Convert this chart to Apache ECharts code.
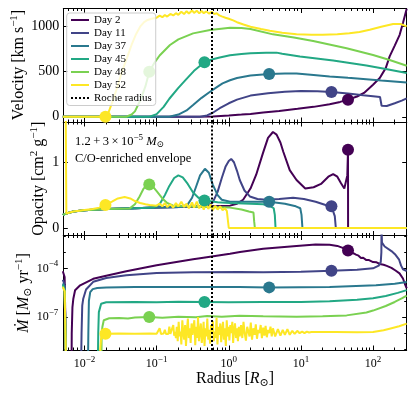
<!DOCTYPE html>
<html>
<head>
<meta charset="utf-8">
<script src="https://cdn.jsdelivr.net/npm/echarts@6/dist/echarts.min.js"></script>
<style>
html, body { margin: 0; padding: 0; background: #fff; }
#chart { width: 416px; height: 399px; }
</style>
</head>
<body>
<div id="chart"></div>
<script>
// ---- data ----
const dayNames = ['Day 2', 'Day 11', 'Day 37', 'Day 45', 'Day 48', 'Day 52'];
const dayColors = ['#440154', '#414487', '#2a788e', '#22a884', '#7ad151', '#fde725'];

const radiusRange = [5.08e-3, 293];
const velocityRange = [-58, 1202];
const opacityRange = [-0.114, 1.612];
const mdotRange = [9.1e-10, 1.1e-2];

const radiusTicks = [1e-2, 1e-1, 1, 10, 100];
const radiusMinorTicks = [6e-3, 7e-3, 8e-3, 9e-3,
  2e-2, 3e-2, 4e-2, 5e-2, 6e-2, 7e-2, 8e-2, 9e-2,
  0.2, 0.3, 0.4, 0.5, 0.6, 0.7, 0.8, 0.9,
  2, 3, 4, 5, 6, 7, 8, 9,
  20, 30, 40, 50, 60, 70, 80, 90, 200];
const velocityTicks = [0, 500, 1000];
const opacityTicks = [0, 1];
const mdotTicks = [1e-7, 1e-4];
const mdotMinorTicks = [1e-9, 1e-8, 1e-6, 1e-5, 1e-3, 1e-2];

const rocheRadius = 0.58;

// photosphere markers (same radius in every panel)
const photoRadius = [45, 26.5, 3.63, 0.46, 0.079, 0.0195];
const photoVelocity = [190, 274, 474, 605, 500, 0];
const photoOpacity = [1.19, 0.33, 0.40, 0.42, 0.66, 0.35];
const photoMdot = [1.3e-3, 7.3e-5, 6.8e-6, 8.5e-7, 1.0e-7, 9.3e-9];

// velocity [km/s] vs radius [Rsun]
const velDay2 = [[0.005,0],[0.3,0],[0.6,4],[1.0,14],[1.5,24],[2,32],[3,48],[5,65],[9,88],[15,110],[25,140],[35,165],[45,190],[60,225],[75,265],[100,355],[124,430],[150,540],[170,670],[200,790],[234,910],[260,1040],[293,1200]];
const velDay11 = [[0.005,0],[0.4,0],[0.5,15],[0.6,45],[0.75,95],[1.0,150],[1.3,190],[2,235],[3.5,262],[6,278],[10,286],[17,283],[26.5,274],[45,258],[73,238],[100,228],[125,220],[130,214],[131.5,122],[155,119],[200,150],[250,180],[293,204]];
const velDay37 = [[0.005,0],[0.15,0],[0.2,25],[0.26,70],[0.32,130],[0.42,210],[0.55,278],[0.7,335],[0.82,370],[1.04,405],[1.3,430],[2,458],[3.63,474],[6,480],[8.7,480],[15,465],[25,448],[45,432],[73,420],[130,402],[293,380]];
const velDay45 = [[0.005,0],[0.08,0],[0.1,30],[0.125,110],[0.15,200],[0.2,320],[0.26,420],[0.33,510],[0.46,605],[0.6,638],[0.75,658],[1.04,682],[1.5,697],[2,705],[3.3,712],[4.6,712],[5.5,700],[9.7,670],[28,625],[81,570],[150,530],[293,485]];
const velDay48 = [[0.005,0],[0.038,0],[0.045,25],[0.05,60],[0.06,190],[0.07,340],[0.079,500],[0.095,610],[0.11,680],[0.153,797],[0.2,860],[0.32,926],[0.55,963],[1.04,987],[1.5,985],[2,975],[4.1,915],[8,880],[14.8,841],[43,760],[100,685],[170,630],[293,567]];
const velDay52 = [[0.005,0],[0.0185,0],[0.021,25],[0.025,190],[0.029,350],[0.033,500],[0.039,660],[0.045,800],[0.052,920],[0.059,1000],[0.067,1050],[0.075,1075],[0.085,1088],[0.1,1100],[0.11,1122],[0.12,1105],[0.13,1130],[0.14,1112],[0.155,1142],[0.17,1125],[0.185,1150],[0.2,1132],[0.22,1165],[0.24,1140],[0.26,1172],[0.28,1146],[0.31,1180],[0.33,1152],[0.36,1178],[0.39,1148],[0.42,1175],[0.45,1150],[0.49,1170],[0.53,1145],[0.58,1165],[0.63,1140],[0.68,1150],[0.74,1125],[0.8,1115],[0.9,1100],[1.0,1088],[1.15,1070],[1.3,1050],[1.6,1025],[2,1000],[2.8,975],[3.7,955],[5.5,932],[8.7,917],[14,911],[20,910],[32,915],[47,926],[65,942],[90,967],[130,1000],[190,1030],[240,1030],[293,1003]];

// opacity [cm^2/g] vs radius
const opaDay2 = [[0.005,0.2],[0.0056,0.22],[0.007,0.25],[0.01,0.27],[0.02,0.29],[0.05,0.30],[0.1,0.31],[0.3,0.325],[0.7,0.335],[1.04,0.34],[1.3,0.37],[1.58,0.43],[2,0.6],[2.4,0.81],[3,1.15],[3.5,1.37],[4.1,1.46],[4.6,1.42],[5.2,1.3],[5.7,1.16],[7,0.88],[8.7,0.73],[11.5,0.6],[15,0.62],[19,0.67],[24,0.78],[28,0.82],[32,0.78],[36,0.68],[40,0.6],[42.5,0.6],[44,0.8],[45,1.19],[45.1,0],[293,0]];
const opaDay11 = [[0.005,0.2],[0.0056,0.22],[0.007,0.25],[0.01,0.27],[0.02,0.29],[0.05,0.30],[0.1,0.31],[0.3,0.325],[0.5,0.335],[0.6,0.39],[0.7,0.55],[0.8,0.76],[0.9,0.93],[1.0,1.02],[1.08,1.05],[1.18,1.0],[1.3,0.87],[1.42,0.73],[1.65,0.57],[1.96,0.48],[2.5,0.44],[3.3,0.43],[5,0.44],[7.8,0.46],[11,0.44],[16,0.40],[22,0.35],[26.5,0.33],[28,0.3],[29.5,0.18],[30.5,0],[293,0]];
const opaDay37 = [[0.005,0.2],[0.0056,0.22],[0.007,0.25],[0.01,0.27],[0.02,0.29],[0.05,0.30],[0.1,0.31],[0.22,0.32],[0.27,0.36],[0.31,0.46],[0.35,0.62],[0.4,0.8],[0.467,0.9],[0.53,0.84],[0.6,0.66],[0.7,0.5],[0.8,0.43],[1.04,0.40],[2,0.40],[3.63,0.40],[6,0.37],[8.5,0.33],[9.8,0.30],[10.2,0.2],[10.5,0],[293,0]];
const opaDay45 = [[0.005,0.2],[0.0056,0.22],[0.007,0.25],[0.01,0.27],[0.02,0.29],[0.05,0.30],[0.09,0.31],[0.11,0.36],[0.13,0.5],[0.15,0.64],[0.175,0.76],[0.2,0.8],[0.23,0.77],[0.27,0.67],[0.32,0.54],[0.38,0.46],[0.46,0.42],[0.7,0.39],[1.04,0.38],[2,0.37],[3,0.36],[3.8,0.33],[4.2,0.30],[4.35,0.2],[4.45,0],[293,0]];
const opaDay48 = [[0.005,0.2],[0.0056,0.22],[0.007,0.25],[0.01,0.27],[0.02,0.29],[0.042,0.295],[0.05,0.36],[0.058,0.48],[0.066,0.6],[0.074,0.66],[0.079,0.66],[0.09,0.62],[0.1,0.56],[0.12,0.45],[0.14,0.38],[0.17,0.34],[0.25,0.33],[0.5,0.32],[1.04,0.31],[1.5,0.28],[1.9,0.25],[2.2,0.235],[2.25,0.1],[2.3,0],[293,0]];
const opaDay52 = [[0.005,3],[0.0054,3],[0.0056,0.22],[0.007,0.25],[0.01,0.275],[0.013,0.29],[0.016,0.31],[0.0195,0.35],[0.024,0.4],[0.029,0.45],[0.036,0.47],[0.043,0.45],[0.05,0.41],[0.059,0.38],[0.07,0.36],[0.08,0.35],[0.1,0.34],[0.11,0.37],[0.12,0.33],[0.13,0.38],[0.14,0.32],[0.155,0.36],[0.17,0.31],[0.185,0.38],[0.2,0.33],[0.22,0.4],[0.24,0.32],[0.26,0.37],[0.28,0.3],[0.31,0.39],[0.33,0.31],[0.36,0.4],[0.39,0.3],[0.42,0.37],[0.45,0.28],[0.48,0.38],[0.52,0.29],[0.56,0.36],[0.6,0.27],[0.65,0.34],[0.7,0.28],[0.76,0.33],[0.82,0.27],[0.88,0.3],[0.94,0.26],[0.98,0.27],[1.0,0],[293,0]];

// mass-loss rate [Msun/yr] vs radius
const mdotDay2 = [[0.005,6.8e-5],[0.0053,3e-5],[0.0056,1e-11],[0.0066,1e-11],[0.00665,1e-8],[0.0068,4e-7],[0.007,1.35e-6],[0.0074,4.5e-6],[0.0087,9.1e-6],[0.0132,2.3e-5],[0.02,3.6e-5],[0.038,6.8e-5],[0.1,1.6e-4],[0.32,3.7e-4],[0.4,4.3e-4],[1.04,8.1e-4],[1.43,1.05e-3],[3,1.66e-3],[8.7,2.5e-3],[16,3.1e-3],[25,2.9e-3],[32,2.5e-3],[38,1.9e-3],[45,1.3e-3],[50,1.0e-3],[54,8.5e-4],[58,7.2e-4],[63,6.2e-4],[68,4.5e-4],[73,4.6e-4],[80,3.4e-4],[88,3.3e-4],[100,2.5e-4],[112,2.4e-4],[124,1.9e-4],[140,1.7e-4],[155,1.45e-4],[180,1.1e-4],[205,7.5e-5],[233,5e-5],[260,2.4e-5],[277,1.1e-5],[293,6e-6]];
const mdotDay11 = [[0.005,2e-5],[0.0053,1e-5],[0.0056,1e-11],[0.0089,1e-11],[0.0091,1e-8],[0.0093,5e-7],[0.0096,1.35e-6],[0.0105,5e-6],[0.0132,1.5e-5],[0.02,2.6e-5],[0.038,3.8e-5],[0.1,5.2e-5],[0.32,5.8e-5],[1.43,6e-5],[3,5.8e-5],[10,6.3e-5],[26.5,7.3e-5],[60,8.5e-5],[100,1.02e-4],[120,1.5e-4],[128,2.5e-4],[130.5,1e-3],[131,5e-2],[132,5e-2],[133,4e-3],[145,2.3e-3],[180,1.2e-3],[205,7e-4],[230,3.5e-4],[245,1.5e-4],[260,9e-5],[293,7e-5]];
const mdotDay37 = [[0.005,1.2e-5],[0.0053,6e-6],[0.0056,1e-11],[0.0111,1e-11],[0.0113,1e-8],[0.0115,1e-6],[0.012,3.5e-6],[0.013,5.3e-6],[0.015,6.2e-6],[0.02,6.8e-6],[0.05,7.2e-6],[0.3,7.2e-6],[1.4,7.2e-6],[3.63,6.8e-6],[25,7.2e-6],[110,9.1e-6],[200,1.15e-5],[293,1.48e-5]];
const mdotDay45 = [[0.005,1e-5],[0.0053,5e-6],[0.0056,1e-11],[0.0152,1e-11],[0.0155,1e-8],[0.0158,2e-7],[0.017,6.6e-7],[0.02,8.2e-7],[0.05,8.5e-7],[0.1,8.3e-7],[0.2,8.7e-7],[0.46,8.5e-7],[1,8.3e-7],[3,8.6e-7],[10,8.5e-7],[25,9.3e-7],[60,1.15e-6],[100,1.45e-6],[150,2.0e-6],[220,3.1e-6],[293,4.6e-6]];
const mdotDay48 = [[0.005,8e-6],[0.0053,4e-6],[0.0056,1e-11],[0.017,1e-11],[0.0173,1e-8],[0.0177,2.5e-8],[0.0185,6.3e-8],[0.022,8.3e-8],[0.03,8.8e-8],[0.04,8.2e-8],[0.05,9.2e-8],[0.079,1e-7],[0.12,9e-8],[0.2,1.05e-7],[0.35,9.5e-8],[0.5,1.15e-7],[0.8,1.05e-7],[1.4,1.2e-7],[3,1.1e-7],[8.7,1.02e-7],[20,1.1e-7],[43,1.26e-7],[81,1.9e-7],[100,2.5e-7],[150,4.8e-7],[200,8.5e-7],[250,1.4e-6],[293,2.1e-6]];
const mdotDay52 = [[0.005,7e-6],[0.0053,4e-6],[0.0056,1e-11],[0.0162,1e-11],[0.0165,1e-9],[0.017,5e-9],[0.018,8e-9],[0.0195,9.3e-9],[0.03,9.5e-9],[0.05,9.2e-9],[0.08,9.6e-9],
  [0.1,9.3e-9],[0.105,9e-9],[0.11,2e-8],[0.115,9e-9],[0.125,9.5e-9],[0.13,1.6e-8],[0.135,9e-9],[0.145,8.8e-9],[0.15,2.5e-8],[0.155,9e-9],[0.165,1e-8],[0.17,3.2e-8],[0.175,7e-9],[0.18,1.2e-8],[0.185,5e-9],
  [0.19,2.5e-8],[0.196,3.2e-9],[0.202,5e-8],[0.208,6.3e-9],[0.214,1.26e-8],[0.22,2e-9],[0.227,6.3e-8],[0.234,1e-8],[0.241,4e-9],[0.248,3.2e-8],[0.255,1.6e-9],[0.263,1.6e-8],[0.271,7.9e-8],[0.279,5e-9],[0.287,2e-8],[0.296,2.5e-9],[0.305,4e-8],[0.314,7.9e-9],[0.323,1e-8],[0.333,6.3e-8],[0.343,1.8e-9],[0.353,2.5e-8],[0.364,5e-9],[0.375,1e-7],[0.386,3.2e-9],[0.398,1.26e-8],[0.41,4e-8],[0.422,2.5e-9],[0.435,7.9e-9],[0.448,5e-8],[0.461,1.6e-9],[0.475,2e-8],[0.489,6.3e-9],[0.504,7.9e-8],[0.519,4e-9],[0.535,1.6e-8],[0.551,2.2e-9],[0.567,3.2e-8],[0.584,1e-8],[0.602,5.6e-8],[0.62,3.2e-9],[0.638,1.26e-8],[0.657,5e-9],[0.677,8.9e-8],[0.697,2e-9],[0.718,2.5e-8],[0.74,7.9e-9],[0.762,4e-8],[0.785,2.8e-9],[0.808,1.6e-8],[0.832,5e-8],[0.857,4e-9],[0.883,2e-8],[0.91,1.6e-9],[0.937,6.3e-8],[0.965,6.3e-9],[0.994,2.5e-8],[1.02,3.5e-9],[1.05,3.2e-8],[1.08,1e-8],[1.12,5e-8],[1.15,2.5e-9],[1.18,1.4e-8],[1.22,4e-8],[1.26,5e-9],[1.3,2e-8],[1.34,3.2e-9],[1.38,2.5e-8],[1.42,6.3e-9],
  [1.48,3.2e-8],[1.54,5e-9],[1.6,5e-8],[1.66,1e-8],[1.73,3.5e-9],[1.8,2.5e-8],[1.87,1.26e-8],[1.94,6.3e-9],[2.02,4.5e-8],[2.1,4e-9],[2.19,2e-8],[2.28,7.9e-9],[2.37,3.5e-8],[2.46,4.5e-9],[2.56,1.6e-8],[2.66,1e-8],[2.77,3.2e-8],[2.88,5e-9],[3.0,2.2e-8],[3.12,7e-9],[3.24,2.8e-8],[3.37,5.6e-9],[3.5,1.6e-8],[3.64,1e-8],[3.79,2.5e-8],[3.94,6.3e-9],
  [4.1,2e-8],[4.4,6.3e-9],[4.8,1.8e-8],[5.2,7e-9],[5.6,1.6e-8],[6.0,7.9e-9],[6.5,1.8e-8],[7.0,7.9e-9],[7.6,1.4e-8],[8.2,8.9e-9],[8.9,1.4e-8],[9.6,1e-8],[10.4,1.26e-8],[11.2,1e-8],[12.1,1.26e-8],[13,1.1e-8],[14,1.17e-8],
  [30,1.18e-8],[60,1.16e-8],[100,1.17e-8],[140,1.5e-8],[170,1.9e-8],[230,2.7e-8],[293,3.9e-8]];

const velocityData = [velDay2, velDay11, velDay37, velDay45, velDay48, velDay52];
const opacityData = [opaDay2, opaDay11, opaDay37, opaDay45, opaDay48, opaDay52];
const mdotData = [mdotDay2, mdotDay11, mdotDay37, mdotDay45, mdotDay48, mdotDay52];

// ---- layout ----
const FONT = "'Liberation Serif', 'DejaVu Serif', serif";
const panelTop = [8.5, 122, 235.5];
const panelHeight = [113.5, 113.5, 114.5];
const lg = Math.log10;

var chart = echarts.init(document.getElementById('chart'), null, { renderer: 'canvas' });

function powLabel(v) {
  var e = Math.round(v);
  return '{b|10}{s|' + (e < 0 ? '\u2212' + (-e) : e) + '}';
}
var powRich = {
  b: { fontFamily: FONT, fontSize: 12, color: '#000', lineHeight: 18 },
  s: { fontFamily: FONT, fontSize: 9, color: '#000', lineHeight: 11, verticalAlign: 'top' }
};
var powLabelX = { margin: 5, formatter: powLabel, rich: powRich, color: '#000' };
var powLabelY = { margin: 5, formatter: powLabel, rich: powRich, color: '#000' };
var linLabel = { margin: 4, fontFamily: FONT, fontSize: 14, color: '#000', formatter: function (v) { return String(v); } };

// axis that only draws ticks (and maybe line / labels); values are in its own units
function tickAxis(g, pos, range, ticks, len, line, label) {
  var a = {
    type: 'value', gridIndex: g, position: pos,
    min: range[0], max: range[1],
    axisLine: { show: line, onZero: false, lineStyle: { color: '#000', width: 1 } },
    axisTick: { show: true, inside: true, length: len, customValues: ticks, lineStyle: { color: '#000', width: 1 } },
    axisLabel: { show: false },
    splitLine: { show: false },
    silent: true
  };
  if (label) a.axisLabel = Object.assign({ show: true, customValues: ticks }, label);
  return a;
}

var xAxes = [], yAxes = [], mainX = [], mainY = [];
var xLog = radiusRange.map(lg);
var xMajor = radiusTicks.map(lg), xMinor = radiusMinorTicks.map(lg);
for (var g = 0; g < 3; g++) {
  mainX.push(xAxes.length);
  xAxes.push({ type: 'log', logBase: 10, gridIndex: g, min: radiusRange[0], max: radiusRange[1], show: false });
  xAxes.push(tickAxis(g, 'bottom', xLog, xMajor, 4.5, true, g === 2 ? powLabelX : null));
  xAxes.push(tickAxis(g, 'bottom', xLog, xMinor, 2.5, false, null));
  xAxes.push(tickAxis(g, 'top', xLog, xMajor, 4.5, true, null));
  xAxes.push(tickAxis(g, 'top', xLog, xMinor, 2.5, false, null));
}
// velocity
mainY.push(yAxes.length);
yAxes.push(tickAxis(0, 'left', velocityRange, velocityTicks, 4.5, true, linLabel));
yAxes.push(tickAxis(0, 'right', velocityRange, velocityTicks, 4.5, true, null));
// opacity
mainY.push(yAxes.length);
yAxes.push(tickAxis(1, 'left', opacityRange, opacityTicks, 4.5, true, linLabel));
yAxes.push(tickAxis(1, 'right', opacityRange, opacityTicks, 4.5, true, null));
// mass-loss rate (log)
var yLog = mdotRange.map(lg);
mainY.push(yAxes.length);
yAxes.push({ type: 'log', logBase: 10, gridIndex: 2, min: mdotRange[0], max: mdotRange[1], show: false });
yAxes.push(tickAxis(2, 'left', yLog, mdotTicks.map(lg), 4.5, true, powLabelY));
yAxes.push(tickAxis(2, 'left', yLog, mdotMinorTicks.map(lg), 2.5, false, null));
yAxes.push(tickAxis(2, 'right', yLog, mdotTicks.map(lg), 4.5, true, null));
yAxes.push(tickAxis(2, 'right', yLog, mdotMinorTicks.map(lg), 2.5, false, null));

var rocheStyle = { color: '#000', width: 2, type: [2, 2] };
var series = [];
var panelData = [velocityData, opacityData, mdotData];
var photoValues = [photoVelocity, photoOpacity, photoMdot];
panelData.forEach(function (dataSet, p) {
  dataSet.forEach(function (pts, d) {
    series.push({
      type: 'line', name: dayNames[d],
      xAxisIndex: mainX[p], yAxisIndex: mainY[p],
      data: pts, symbol: 'none', showSymbol: false,
      lineStyle: { color: dayColors[d], width: 2 },
      itemStyle: { color: dayColors[d] },
      silent: true, z: 2
    });
  });
  series.push({
    type: 'line', name: 'Roche radius',
    xAxisIndex: mainX[p], yAxisIndex: mainY[p],
    data: [], symbol: 'none',
    lineStyle: rocheStyle, itemStyle: { color: '#000' },
    markLine: {
      silent: true, symbol: 'none', z: 3,
      label: { show: false },
      lineStyle: rocheStyle,
      data: [{ xAxis: rocheRadius }]
    }
  });
  series.push({
    type: 'scatter',
    xAxisIndex: mainX[p], yAxisIndex: mainY[p],
    symbolSize: 12, silent: true, z: 3,
    data: photoRadius.map(function (r, d) {
      return { value: [r, photoValues[p][d]], itemStyle: { color: dayColors[d], opacity: 1 } };
    })
  });
});

var titleRich = {
  a: { fontFamily: FONT, fontSize: 16, color: '#000', lineHeight: 20 },
  i: { fontFamily: FONT, fontSize: 16, fontStyle: 'italic', color: '#000', lineHeight: 20 },
  sup: { fontFamily: FONT, fontSize: 11, color: '#000', lineHeight: 12, verticalAlign: 'top' },
  sub: { fontFamily: FONT, fontSize: 11, color: '#000', lineHeight: 12, verticalAlign: 'bottom' }
};
var noteRich = {
  t: { fontFamily: FONT, fontSize: 12.5, color: '#000', lineHeight: 16 },
  i: { fontFamily: FONT, fontSize: 12.5, fontStyle: 'italic', color: '#000', lineHeight: 16 },
  sup: { fontFamily: FONT, fontSize: 9, color: '#000', lineHeight: 10, verticalAlign: 'top' },
  sub: { fontFamily: FONT, fontSize: 9, color: '#000', lineHeight: 10, verticalAlign: 'bottom' }
};
function label(text, x, y, rot, rich, align) {
  return {
    type: 'text', x: x, y: y, rotation: rot, silent: true, z: 10,
    style: { text: text, rich: rich, align: align || 'center', verticalAlign: 'middle', fill: '#000' }
  };
}

var option = {
  animation: false,
  backgroundColor: '#fff',
  grid: panelTop.map(function (t, i) {
    return { left: 63.3, width: 343.4, top: t, height: panelHeight[i] };
  }),
  xAxis: xAxes,
  yAxis: yAxes,
  legend: {
    data: dayNames.concat(['Roche radius']),
    orient: 'vertical', left: 66.7, top: 13,
    itemWidth: 18, itemHeight: 10, itemGap: 2,
    padding: [1.5, 4, 2, 3.3],
    selectedMode: false,
    backgroundColor: 'rgba(255,255,255,0.8)',
    borderColor: '#cccccc', borderWidth: 1, borderRadius: 3,
    itemStyle: { opacity: 0 },
    textStyle: { fontFamily: FONT, fontSize: 11, color: '#000', lineHeight: 10 }
  },
  graphic: [
    label('{a|Velocity [km s}{sup|\u22121}{a|]}', 19, 65, Math.PI / 2, titleRich),
    label('{a|Opacity [cm}{sup|2}{a| g}{sup|\u22121}{a|]}', 39, 178.7, Math.PI / 2, titleRich),
    label('{i|\u1E40}{a| [}{i|M}{sub|\u2299}{a| yr}{sup|\u22121}{a|]}', 24, 293, Math.PI / 2, titleRich),
    label('{a|Radius [}{i|R}{sub|\u2299}{a|]}', 235, 379, 0, titleRich),
    label('{t|1.2\u2009+\u20093\u2009\u00d7\u200910}{sup|\u22125}{t| }{i|M}{sub|\u2299}', 75, 141.5, 0, noteRich, 'left'),
    label('{t|C/O-enriched envelope}', 75, 159, 0, noteRich, 'left')
  ],
  series: series
};
chart.setOption(option);
</script>
</body>
</html>
